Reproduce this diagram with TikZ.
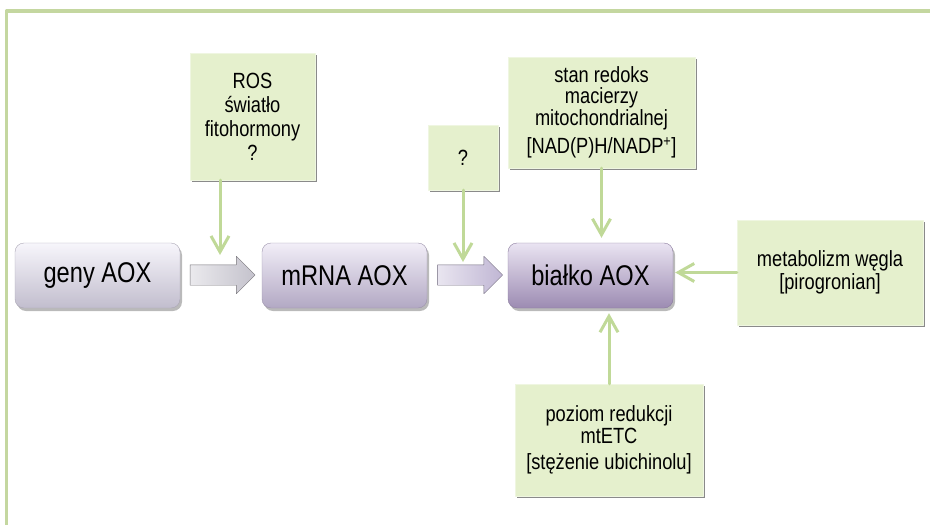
\documentclass[tikz,border=0pt]{standalone}
\usepackage{fontspec}
\setmainfont{Liberation Sans}[FakeStretch=0.83]
\usetikzlibrary{arrows.meta,shapes.arrows,shadows}

\definecolor{rahmengruen}{RGB}{196,215,160}
\definecolor{pfeilgruen}{RGB}{192,217,152}
\definecolor{boxgruen}{RGB}{229,240,205}
\definecolor{lilaA}{RGB}{228,223,242}
\definecolor{lilaB}{RGB}{210,198,230}
\definecolor{lilaC}{RGB}{184,164,210}
\definecolor{grauPfeil}{RGB}{196,194,204}
\definecolor{lilaPfeil}{RGB}{192,182,212}

\tikzset{
  stufe/.style={rounded corners=9pt, minimum width=165pt, minimum height=65pt,
    inner sep=0pt, draw=#1!75!black, top color=#1!30!white, middle color=#1,
    bottom color=#1!85!black, font=\fontsize{28.5}{30}\selectfont,
    drop shadow={shadow xshift=2pt, shadow yshift=-3pt, fill=black!60, opacity=.45}},
  einfluss/.style={draw=boxgruen!60!white, fill=boxgruen, inner sep=0pt, align=center,
    font=\fontsize{22}{21.5}\selectfont,
    drop shadow={shadow xshift=2pt, shadow yshift=-2pt, fill=black!65, opacity=.7}},
  blockpfeil/.style={single arrow, single arrow head extend=8.5pt, minimum height=65pt,
    inner xsep=0pt, inner ysep=10pt, draw=#1!60!black, left color=#1!35!white, right color=#1},
  wirkung/.style={draw=pfeilgruen, line width=3pt, -{Straight Barb[length=16pt,width=18pt]}}
}

\begin{document}
\begin{tikzpicture}[x=1pt, y=-1pt, line cap=round, line join=round]

  \useasboundingbox (0,0) rectangle (930,525);

  % Rahmen
  \draw[rahmengruen, line width=3.5pt, line cap=butt] (6.5,525) -- (6.5,11) -- (930,11);

  % Hauptkette: Gen -> mRNA -> Protein
  \node[stufe=lilaA] (geny)   at (97.5,275.5)  {geny AOX};
  \node[stufe=lilaB] (mrna)   at (344.5,275.5) {mRNA AOX};
  \node[stufe=lilaC] (bialko) at (590.5,275.5) {białko AOX};

  \node[blockpfeil=grauPfeil] (p1) at (217.5,275) {};
  \node[blockpfeil=lilaPfeil] (p2) at (465,275)   {};

  % Einflussfaktoren
  \node[einfluss, minimum width=125pt, minimum height=127pt] (ros) at (252.5,116.5)
    {ROS\\[2.5pt]światło\\[2.5pt]fitohormony\\[2.5pt]?};
  \node[einfluss, minimum width=70pt, minimum height=65pt] (frage) at (463,157.5) {?};
  \node[einfluss, minimum width=187pt, minimum height=111pt] (stan) at (601.5,112.5)
    {stan redoks\\macierzy\\mitochondrialnej\\[7pt][NAD(P)H/NADP\textsuperscript{+}]};
  \node[einfluss, minimum width=186pt, minimum height=105pt] (metab) at (830,272.5)
    {metabolizm węgla\\[1.5pt][pirogronian]};
  \node[einfluss, minimum width=188pt, minimum height=112pt] (poziom) at (609,440)
    {poziom redukcji\\mtETC\\[5pt][stężenie ubichinolu]};

  % Pfeilspitzen ueber den Blockpfeilen
  \coordinate (z1) at (220,255);
  \coordinate (z2) at (463,262);

  % Wirkungen
  \draw[wirkung] (ros.south -| z1) -- (z1);
  \draw[wirkung] (frage.south) -- (z2);
  \draw[wirkung, shorten >=5pt] (stan.south) -- (stan.south |- bialko.north);
  \draw[wirkung, shorten >=2pt] (metab.west) -- (metab.west -| bialko.east);
  \draw[wirkung, shorten >=5pt] (poziom.north) -- (poziom.north |- bialko.south);

\end{tikzpicture}
\end{document}
